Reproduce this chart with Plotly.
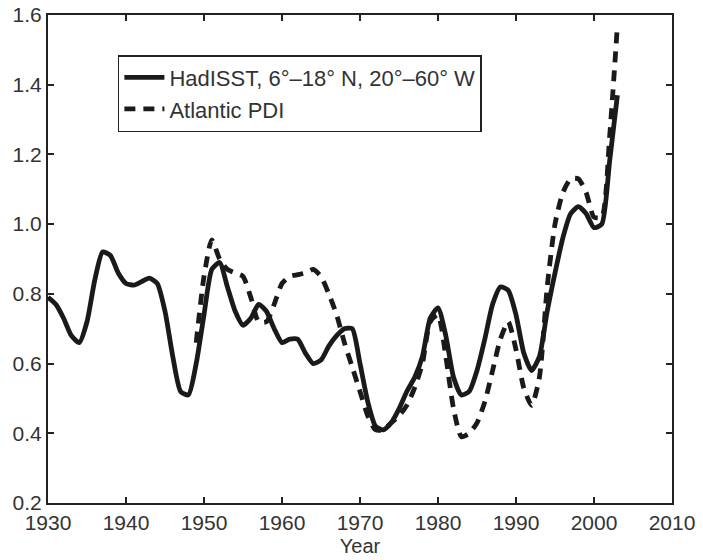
import plotly.graph_objects as go

# HadISST SST index, 6°–18° N, 20°–60° W (smoothed annual values)
sst_years = list(range(1930, 2004))
sst_values = [
    0.79, 0.77, 0.73, 0.68, 0.66, 0.72, 0.84, 0.92, 0.91, 0.86,
    0.83, 0.825, 0.835, 0.845, 0.83, 0.75, 0.62, 0.52, 0.51, 0.60,
    0.74, 0.87, 0.89, 0.82, 0.75, 0.71, 0.73, 0.77, 0.75, 0.70,
    0.66, 0.67, 0.67, 0.63, 0.60, 0.61, 0.65, 0.68, 0.70, 0.70,
    0.60, 0.49, 0.42, 0.41, 0.43, 0.47, 0.52, 0.56, 0.62, 0.73,
    0.76, 0.68, 0.56, 0.51, 0.52, 0.58, 0.67, 0.77, 0.82, 0.81,
    0.74, 0.63, 0.58, 0.62, 0.75, 0.86, 0.96, 1.03, 1.05, 1.03,
    0.99, 1.00, 1.18, 1.37,
]

# Atlantic power dissipation index (scaled)
pdi_years = list(range(1949, 2004))
pdi_values = [
    0.66, 0.85, 0.955, 0.90, 0.87, 0.86, 0.85, 0.79, 0.72, 0.72,
    0.77, 0.83, 0.85, 0.855, 0.86, 0.87, 0.85, 0.80, 0.74, 0.66,
    0.59, 0.52, 0.45, 0.41, 0.41, 0.43, 0.45, 0.48, 0.53, 0.60,
    0.72, 0.74, 0.62, 0.47, 0.39, 0.40, 0.43, 0.49, 0.58, 0.67,
    0.72, 0.64, 0.53, 0.48, 0.56, 0.82, 1.00, 1.09, 1.13, 1.13,
    1.09, 1.02, 1.02, 1.25, 1.57,
]

x_ticks = [1930, 1940, 1950, 1960, 1970, 1980, 1990, 2000, 2010]
y_ticks = [0.2, 0.4, 0.6, 0.8, 1.0, 1.2, 1.4, 1.6]

FONT = "Liberation Sans, Arial, sans-serif"
INK = "#1a1a1a"
TEXT = "#333333"

fig = go.Figure()
fig.add_trace(go.Scatter(
    x=sst_years, y=sst_values, mode="lines",
    name="HadISST, 6°–18° N, 20°–60° W",
    line=dict(color=INK, width=4.8, shape="spline", smoothing=0.6),
))
fig.add_trace(go.Scatter(
    x=pdi_years, y=pdi_values, mode="lines",
    name="Atlantic PDI",
    line=dict(color=INK, width=4.8, shape="spline", smoothing=0.6,
              dash="11px,8px"),
))

axis_common = dict(
    showgrid=False, zeroline=False, automargin=False,
    showline=True, linecolor="#222222", linewidth=2, mirror="ticks",
    ticks="inside", ticklen=6, tickwidth=1.5, tickcolor="#222222",
    tickfont=dict(family=FONT, size=21, color=TEXT),
)

fig.update_layout(
    width=703, height=560,
    margin=dict(l=48, r=31, t=15, b=57),
    paper_bgcolor="white", plot_bgcolor="white",
    font=dict(family=FONT, size=20, color=TEXT),
    xaxis=dict(
        range=[1930, 2010], tickvals=x_ticks,
        ticktext=[str(v) for v in x_ticks],
        title=dict(text="Year", font=dict(family=FONT, size=20, color=TEXT),
                   standoff=6),
        **axis_common,
    ),
    yaxis=dict(
        range=[0.2, 1.6], tickvals=y_ticks,
        ticktext=[f"{v:.1f}" for v in y_ticks],
        **axis_common,
    ),
    legend=dict(
        x=0.112, y=0.918, xanchor="left", yanchor="top",
        bgcolor="white", bordercolor="#222222", borderwidth=1.5,
        font=dict(family=FONT, size=22, color=TEXT),
        tracegroupgap=0, itemwidth=40,
    ),
    showlegend=True,
)

fig.write_html("out.html")
